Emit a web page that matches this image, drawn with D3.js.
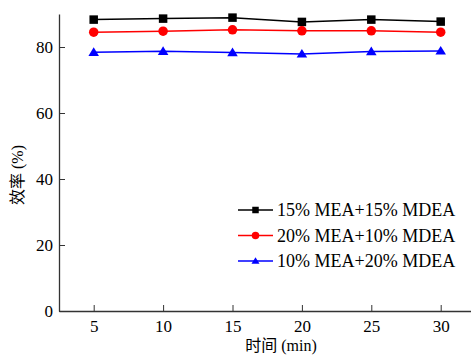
<!DOCTYPE html>
<html>
<head>
<meta charset="utf-8">
<script src="https://cdn.jsdelivr.net/npm/d3@7"></script>
<style>
  body { margin: 0; background: #fff; }
</style>
</head>
<body>
<div id="chart"></div>
<script>
// ---- Data
const times = [5, 10, 15, 20, 25, 30];
const xTicks = [5, 10, 15, 20, 25, 30];
const yTicks = [0, 20, 40, 60, 80];
const seriesNames = ['15% MEA+15% MDEA', '20% MEA+10% MDEA', '10% MEA+20% MDEA'];
const seriesColors = ['#000000', '#ff0000', '#0000ff'];
const seriesShapes = ['square', 'circle', 'triangle'];
const blackValues = [88.3, 88.6, 88.9, 87.6, 88.3, 87.7];
const redValues = [84.5, 84.8, 85.2, 84.9, 84.9, 84.5];
const blueValues = [78.4, 78.7, 78.3, 77.9, 78.6, 78.8];
const allValues = [blackValues, redValues, blueValues];

const width = 471, height = 355;
const margin = { left: 59, top: 14, bottom: 44 };
const serif = 'Liberation Serif';

const svg = d3.select('#chart').append('svg')
    .attr('width', width).attr('height', height);

// ---- Scales
const x = d3.scaleLinear().domain([2.5, 32.5]).range([margin.left, 475.4]);
const y = d3.scaleLinear().domain([0, 90]).range([height - margin.bottom, margin.top]);

// ---- Axes (ticks pointing inward)
const xAxis = svg.append('g')
    .attr('transform', `translate(0, ${y(0)})`)
    .call(d3.axisBottom(x).tickValues(xTicks).tickSize(-6).tickPadding(9).tickSizeOuter(0));
const yAxis = svg.append('g')
    .attr('transform', `translate(${margin.left}, 0)`)
    .call(d3.axisLeft(y).tickValues(yTicks).tickSize(-6).tickPadding(6).tickSizeOuter(0));

[xAxis, yAxis].forEach(a => {
    a.attr('font-family', serif).attr('font-size', 17);
    a.selectAll('.domain').attr('stroke', '#333').attr('stroke-width', 1.3);
    a.selectAll('.tick line').attr('stroke', '#333').attr('stroke-width', 1);
    a.selectAll('.tick text').attr('fill', '#000');
});

// ---- Axis titles
svg.append('text')
    .attr('x', 281).attr('y', 351)
    .attr('text-anchor', 'middle')
    .attr('font-family', `${serif}, Noto Sans CJK SC`)
    .attr('font-size', 16)
    .text('时间 (min)');

svg.append('text')
    .attr('transform', `translate(23, 175) rotate(-90)`)
    .attr('text-anchor', 'middle')
    .attr('font-family', `${serif}, Noto Sans CJK SC`)
    .attr('font-size', 16)
    .text('效率 (%)');

// ---- Marker helper
function marker(g, shape, cx, cy, s, color) {
    if (shape === 'square') {
        g.append('rect').attr('x', cx - s / 2).attr('y', cy - s / 2)
            .attr('width', s).attr('height', s).attr('fill', color);
    } else if (shape === 'circle') {
        g.append('circle').attr('cx', cx).attr('cy', cy).attr('r', s / 2 + 0.5).attr('fill', color);
    } else {
        const h = s * 0.95;
        g.append('path')
            .attr('d', `M${cx},${cy - h * 0.62} L${cx + s * 0.62},${cy + h * 0.45} L${cx - s * 0.62},${cy + h * 0.45} Z`)
            .attr('fill', color);
    }
}

// ---- Series
const line = d3.line().x((d, i) => x(times[i])).y(d => y(d));
allValues.forEach((vals, k) => {
    const g = svg.append('g');
    g.append('path').datum(vals)
        .attr('d', line)
        .attr('fill', 'none')
        .attr('stroke', seriesColors[k])
        .attr('stroke-width', 1.5);
    vals.forEach((v, i) => marker(g, seriesShapes[k], x(times[i]), y(v), 8.5, seriesColors[k]));
});

// ---- Legend
const legend = svg.append('g');
seriesNames.forEach((name, k) => {
    const ly = 210 + k * 25.5;
    legend.append('line')
        .attr('x1', 238).attr('x2', 273).attr('y1', ly).attr('y2', ly)
        .attr('stroke', seriesColors[k]).attr('stroke-width', 1.5);
    marker(legend, seriesShapes[k], 255.5, ly, 6.5, seriesColors[k]);
    legend.append('text')
        .attr('x', 277).attr('y', ly).attr('dy', '0.35em')
        .attr('font-family', serif)
        .attr('font-size', 18)
        .text(name);
});
</script>
</body>
</html>
